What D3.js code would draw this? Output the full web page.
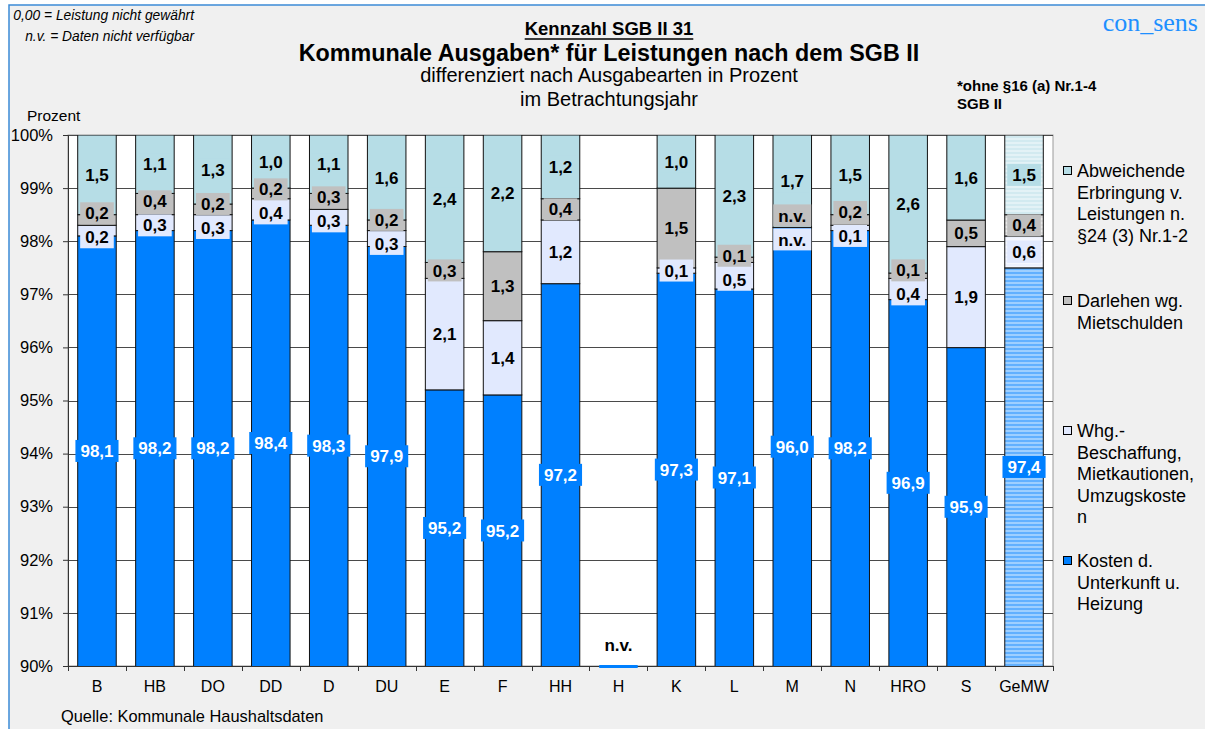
<!DOCTYPE html>
<html><head><meta charset="utf-8">
<script src="https://cdn.jsdelivr.net/npm/d3@7"></script>
<style>
body{margin:0;background:#fff;}
svg{display:block;font-family:"Liberation Sans",Arial,sans-serif;}
</style>
</head><body><svg id="chart" width="1205" height="729"></svg>
<script>
// ---------------- data ----------------
const categories = ["B","HB","DO","DD","D","DU","E","F","HH","H","K","L","M","N","HRO","S","GeMW"];
const kostenUnterkunft = [98.1,98.2,98.2,98.4,98.3,97.9,95.2,95.2,97.2,null,97.3,97.1,96.0,98.2,96.9,95.9,97.4];
const whgBeschaffung   = [0.2,0.3,0.3,0.4,0.3,0.3,2.1,1.4,1.2,null,0.1,0.5,null,0.1,0.4,1.9,0.6];
const darlehen         = [0.2,0.4,0.2,0.2,0.3,0.2,0.3,1.3,0.4,null,1.5,0.1,null,0.2,0.1,0.5,0.4];
const abweichende      = [1.5,1.1,1.3,1.0,1.1,1.6,2.4,2.2,1.2,null,1.0,2.3,1.7,1.5,2.6,1.6,1.5];
const seriesKeys = ["kosten","whg","darl","abw"];
const seriesLabels = [
  ["Kosten d.","Unterkunft u.","Heizung"],
  ["Whg.-","Beschaffung,","Mietkautionen,","Umzugskoste","n"],
  ["Darlehen wg.","Mietschulden"],
  ["Abweichende","Erbringung v.","Leistungen n.","§24 (3) Nr.1-2"]
];
const yTicks = [0.90,0.91,0.92,0.93,0.94,0.95,0.96,0.97,0.98,0.99,1.00];
const naText = "n.v.";

// ---------------- style ----------------
const colors = {kosten:"#0080ff", whg:"#e1e9fe", darl:"#c0c0c0", abw:"#b6dde6"};
const hatchedCategory = "GeMW";
const W = 1205, H = 729;
const plot = {left:68, right:1053, top:135, bottom:666};

const svg = d3.select("#chart");
const defs = svg.append("defs");

// frame
svg.append("rect").attr("x",9).attr("y",5).attr("width",W+20).attr("height",H+20)
  .attr("fill","#f0f0f0").attr("stroke","#3b8ad6").attr("stroke-width",1.5);

// hatched patterns
seriesKeys.forEach(k=>{
  const p = defs.append("pattern").attr("id","pat-"+k).attr("patternUnits","userSpaceOnUse")
    .attr("width",4).attr("height",4);
  p.append("rect").attr("width",4).attr("height",4).attr("fill",d3.interpolateRgb(colors[k],"#fff")(0.62));
  p.append("rect").attr("width",4).attr("height",2).attr("fill",d3.interpolateRgb(colors[k],"#fff")(0.38));
});

// scales
const x = d3.scaleBand().domain(categories).range([plot.left,plot.right])
  .paddingInner(0.335).paddingOuter(0.1675);
const y = d3.scaleLinear().domain([0.9,1]).range([plot.bottom,plot.top]);

// plot background
svg.append("rect").attr("x",plot.left).attr("y",plot.top)
  .attr("width",plot.right-plot.left).attr("height",plot.bottom-plot.top)
  .attr("fill","#fff").attr("stroke","#9a9a9a").attr("stroke-width",1);

// gridlines
svg.append("g").selectAll("line").data(yTicks).join("line")
  .attr("x1",plot.left).attr("x2",plot.right)
  .attr("y1",d=>Math.round(y(d))+0.5).attr("y2",d=>Math.round(y(d))+0.5)
  .attr("stroke","#4a4a4a").attr("stroke-width",1);

// stack
const rows = categories.map((c,i)=>({cat:c, kosten:kostenUnterkunft[i], whg:whgBeschaffung[i], darl:darlehen[i], abw:abweichende[i]}));
const stacked = d3.stack().keys(seriesKeys).value((d,k)=>d[k]==null?0:d[k]).offset(d3.stackOffsetExpand)(rows);
const allNull = rows.map(r=>seriesKeys.every(k=>r[k]==null));

defs.append("clipPath").attr("id","clip").append("rect")
  .attr("x",plot.left).attr("y",plot.top).attr("width",plot.right-plot.left).attr("height",plot.bottom-plot.top);

const barsG = svg.append("g").attr("clip-path","url(#clip)");
stacked.forEach(s=>{
  const k = s.key;
  barsG.append("g").selectAll("rect")
    .data(s.map((d,i)=>({d,i})).filter(o=>!allNull[o.i] && o.d[1]-o.d[0]>0))
    .join("rect")
    .attr("x",o=>x(categories[o.i]))
    .attr("width",x.bandwidth())
    .attr("y",o=>y(o.d[1]))
    .attr("height",o=>y(Math.max(o.d[0],0.85))-y(o.d[1]))
    .attr("fill",o=>categories[o.i]===hatchedCategory?"url(#pat-"+k+")":colors[k])
    .attr("stroke","#111").attr("stroke-width",1);
});

// axes
const yAxis = svg.append("g").attr("transform",`translate(${plot.left},0)`)
  .call(d3.axisLeft(y).tickValues(yTicks).tickFormat(d3.format(".0%")).tickSize(5).tickPadding(10));
yAxis.selectAll("text").attr("font-size",16.5).attr("font-family","Liberation Sans, Arial").attr("fill","#000");
yAxis.selectAll("line").attr("stroke","#333");
yAxis.select(".domain").attr("stroke","#333");

const xAxis = svg.append("g").attr("transform",`translate(0,${plot.bottom})`)
  .call(d3.axisBottom(x).tickSize(0).tickPadding(15));
xAxis.selectAll("text").attr("font-size",16).attr("font-family","Liberation Sans, Arial").attr("fill","#000");
xAxis.select(".domain").attr("stroke","#333");
const bounds = categories.map(c=>x(c)+x.bandwidth()/2-x.step()/2).concat([x(categories[categories.length-1])+x.bandwidth()/2+x.step()/2]);
svg.append("g").selectAll("line").data(bounds).join("line")
  .attr("x1",d=>Math.round(d)+0.5).attr("x2",d=>Math.round(d)+0.5)
  .attr("y1",plot.bottom).attr("y2",plot.bottom+5).attr("stroke","#333");

// data labels
const fmt = v => v==null ? naText : d3.format(".1f")(v).replace(".",",");
const labelG = svg.append("g").attr("font-weight","bold").attr("font-size",17);
function drawLabel(cx, cy, text, bg, fg){
  const g = labelG.append("g");
  const t = g.append("text").attr("x",cx).attr("y",cy).attr("dy","0.36em")
    .attr("text-anchor","middle").attr("fill",fg).text(text);
  const w = t.node().getComputedTextLength();
  if(bg){
    g.insert("rect","text").attr("x",cx-w/2-5).attr("y",cy-11).attr("width",w+10).attr("height",22).attr("fill",bg);
  }
}
const minSep = 24;
categories.forEach((c,i)=>{
  const cx = x(c)+x.bandwidth()/2;
  if(allNull[i]){
    svg.append("rect").attr("x",x(c)).attr("y",plot.bottom-1).attr("width",x.bandwidth()).attr("height",3).attr("fill",colors.kosten);
    drawLabel(cx, plot.bottom-21, naText, null, "#000");
    return;
  }
  const segs = stacked.map(s=>s[i]);
  const k0 = Math.max(segs[0][0],0.9);
  drawLabel(cx, y((k0+segs[0][1])/2), fmt(rows[i].kosten), colors.kosten, "#fff");
  const cs = [1,2,3].map(j=>y((segs[j][0]+segs[j][1])/2));
  for(let it=0; it<60; it++){
    for(let j=0;j<2;j++){
      const gap = cs[j]-cs[j+1];
      if(gap<minSep){ const sh=(minSep-gap)/2; cs[j]+=sh; cs[j+1]-=sh; }
    }
  }
  [1,2,3].forEach((j,n)=>{
    const key = seriesKeys[j];
    drawLabel(cx, cs[n], fmt(rows[i][key]), colors[key], "#000");
  });
});

// legend
const legendOrder = [3,2,1,0];
const lg = svg.append("g").attr("font-size",18);
legendOrder.forEach((j,n)=>{
  const by = 177 + n*130;
  lg.append("rect").attr("x",1063.5).attr("y",by-10.5).attr("width",8).attr("height",8)
    .attr("fill",colors[seriesKeys[j]]).attr("stroke","#000").attr("stroke-width",1);
  const t = lg.append("text").attr("x",1077).attr("y",by).attr("fill","#000");
  seriesLabels[j].forEach((line,li)=>{
    t.append("tspan").attr("x",1077).attr("dy",li===0?0:21.6).text(line);
  });
});

// titles
const cxTitle = 609;
const k = svg.append("text").attr("x",cxTitle).attr("y",35).attr("text-anchor","middle")
  .attr("font-size",18.5).attr("font-weight","bold").text("Kennzahl SGB II 31");
const kw = k.node().getComputedTextLength();
svg.append("line").attr("x1",cxTitle-kw/2).attr("x2",cxTitle+kw/2).attr("y1",39).attr("y2",39)
  .attr("stroke","#000").attr("stroke-width",1.6);
svg.append("text").attr("x",cxTitle).attr("y",61).attr("text-anchor","middle")
  .attr("font-size",23.3).attr("font-weight","bold").text("Kommunale Ausgaben* für Leistungen nach dem SGB II");
svg.append("text").attr("x",cxTitle).attr("y",82).attr("text-anchor","middle")
  .attr("font-size",20).text("differenziert nach Ausgabearten in Prozent");
svg.append("text").attr("x",cxTitle).attr("y",106).attr("text-anchor","middle")
  .attr("font-size",20).text("im Betrachtungsjahr");

svg.append("text").attr("x",957).attr("y",91).attr("font-size",15).attr("font-weight","bold").text("*ohne §16 (a) Nr.1-4");
svg.append("text").attr("x",957).attr("y",109).attr("font-size",15).attr("font-weight","bold").text("SGB II");

svg.append("text").attr("x",1198).attr("y",31).attr("text-anchor","end")
  .attr("font-family","Liberation Serif, Times New Roman, serif").attr("font-size",26).attr("fill","#1e8fff").text("con_sens");

svg.append("text").attr("x",194).attr("y",20).attr("text-anchor","end").attr("font-size",13.8).attr("font-style","italic").text("0,00 = Leistung nicht gewährt");
svg.append("text").attr("x",194).attr("y",41).attr("text-anchor","end").attr("font-size",13.8).attr("font-style","italic").text("n.v. = Daten nicht verfügbar");

svg.append("text").attr("x",27).attr("y",121).attr("font-size",15.5).text("Prozent");
svg.append("text").attr("x",61).attr("y",722).attr("font-size",16.4).text("Quelle: Kommunale Haushaltsdaten");
</script>
</body></html>
